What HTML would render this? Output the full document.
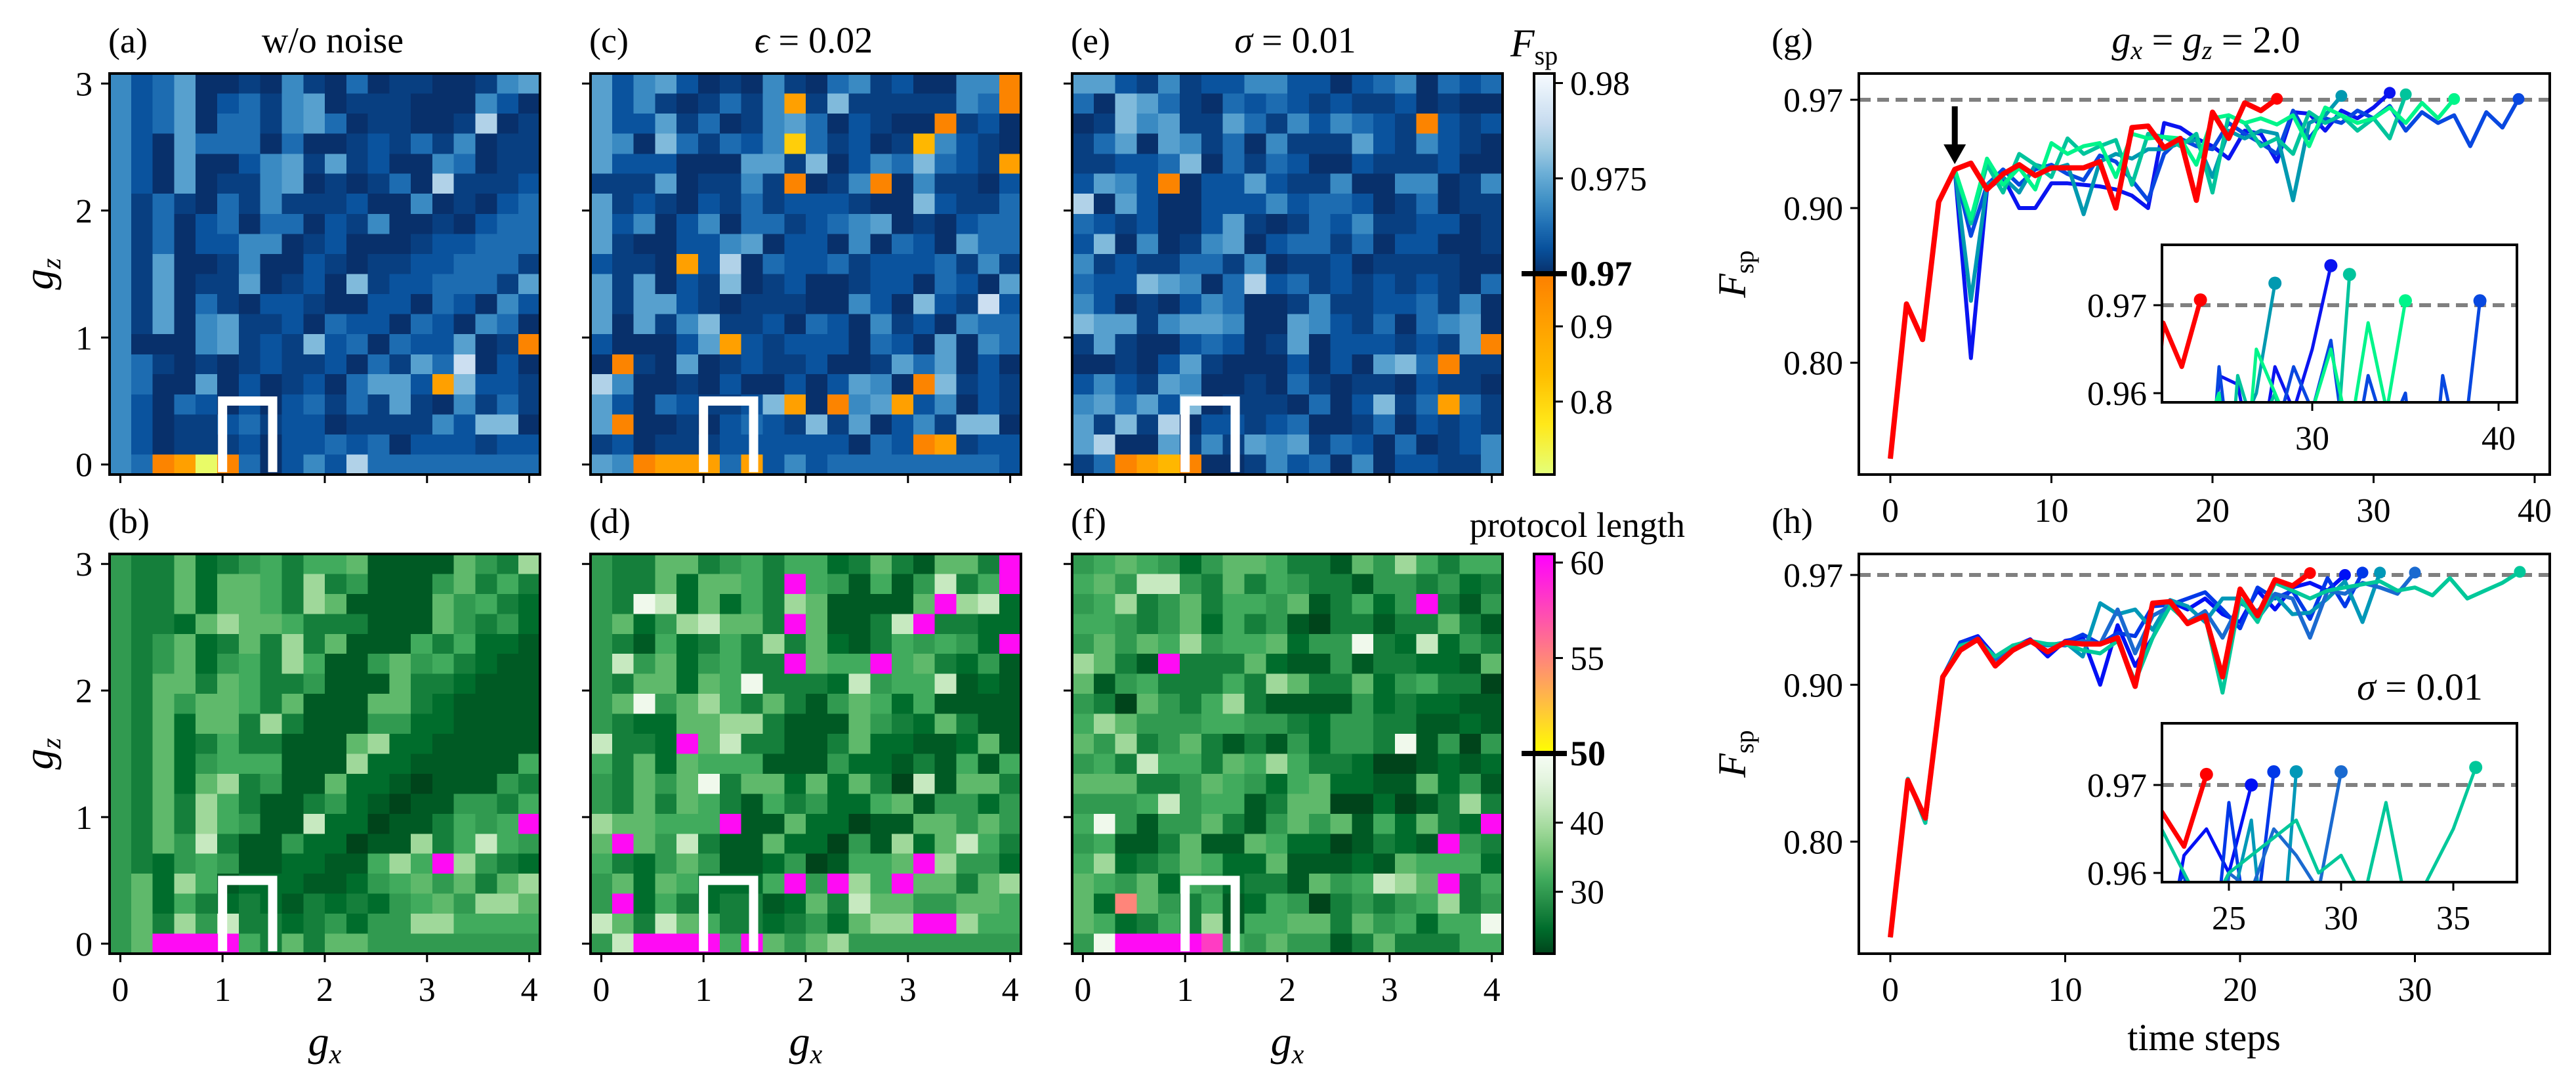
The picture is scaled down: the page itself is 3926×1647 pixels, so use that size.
<!DOCTYPE html>
<html><head><meta charset="utf-8"><title>Fidelity and protocol length heatmaps</title>
<style>
html,body{margin:0;padding:0;background:#fff;width:3926px;height:1647px;overflow:hidden;}
svg{display:block;}
text{font-family:"Liberation Serif","DejaVu Serif",serif;fill:#000;}
</style></head>
<body>
<svg id="fig" xmlns="http://www.w3.org/2000/svg" width="3926" height="1647" viewBox="0 0 3926 1647">
<defs>
<clipPath id="clipG"><rect x="2833" y="112" width="1053" height="611"/></clipPath>
<clipPath id="clipH"><rect x="2833" y="844" width="1053" height="609"/></clipPath>
<clipPath id="clipGi"><rect x="3295" y="373" width="541" height="240"/></clipPath>
<clipPath id="clipHi"><rect x="3295" y="1102" width="541" height="242"/></clipPath>
</defs>
</svg>
<script>
// ---------------- DATA ----------------
const gxVals=[0,0.211,0.421,0.632,0.842,1.053,1.263,1.474,1.684,1.895,2.105,2.316,2.526,2.737,2.947,3.158,3.368,3.579,3.789,4.0];
const gzVals=[0,0.158,0.316,0.474,0.632,0.789,0.947,1.105,1.263,1.421,1.579,1.737,1.895,2.053,2.211,2.368,2.526,2.684,2.842,3.0];
const fCodeValue={'0':0.9700,'1':0.9706,'2':0.9714,'3':0.9724,'4':0.9736,'5':0.9746,'6':0.9758,'7':0.9772,'8':0.9782,'a':0.960,'b':0.903,'c':0.850,'d':0.810,'e':0.716};
const lCodeValue={'0':21,'1':23,'2':24.7,'3':26.8,'4':30,'5':31.9,'6':34,'7':39,'8':42.8,'9':48.5,'m':60,'p':58,'s':55};
// rows listed from gz=3 (top) down to gz=0
const fidelityA=["42350010410301100145","42350231450111000420","42350331453011001701","42053330300121314011","42050024515120043011","42050114501013071112","41310314111200401023","41302303302140010233","41302244012000122333","41500140021011223331","41501150120612233315","41503102210022032042","41504511203220320430","4000451216230322501a","43101012112031538020","430050201203552b6221","42032020231315104131","42011231220111142660","42011120223230222122","43abea30242733333333"].map(r=>[...r].map(c=>fCodeValue[c]));
const fidelityC=["5245201041034120044a","524101314b161111143a","5225130145302100a120","540631324d31201c4210","5222000551602436321b","111501141a014a041102","51210213122210062113","52402403312345010233","51002245022040320533","2110b270322312223141","51502160120012203205","51552101110042062182","50514611203204120433","200025b2122203205043","0a105012112001535020","740010200202540a6121","520321126b0a45b24021","5a001023216150241660","120111222222032ab122","54abbb3b242333333332"].map(r=>[...r].map(c=>fCodeValue[c]));
const fidelityE=["55214122442202340323","30653103232121120100","0164511531424321a212","13505413041115214210","11223603132002111200","2542a022521140044014","70520022242332013011","32120025101324112201","26040145023313022001","41211331401120111100","32265403723121212103","42010243001411223140","65514554005421303450","1510023201502221215a","00102510002020563a11","24215400103101102110","45352601110302613b31","51617022123001302121","57005141545132030124","13abca00142304022114"].map(r=>[...r].map(c=>fCodeValue[c]));
const lengthB=["43362345355611116437","43362665373411146353","43362665376111164532","43326766533311164342","43462363736111535221","43462453751146453211","43663653341116332111","43646653611166321111","43626637311144221111","43623533111672211111","43624555111722111115","43626734116221011143","43637531134210114435","4363754118220113545m","43648311422011735854","432454112211575m7432","46275122211245646367","46253232132324564776","46374833234244775555","46mmmm53636644444444"].map(r=>[...r].map(c=>lCodeValue[c]));
const lengthD=["4336634535523631663m","433626653m541514835m","4398262537611116m782","462478663m61138m3322","4315235373621354542m","484624533m655m563241","43662659333284558121","46946753631465251111","43226677311164326311","8332m683311362211261","53626555111422131515","43646936626263081663","43636531534225614424","766555m1162201166464","6m648311622041726853","532464112401556m7442","462652225m4m75m66367","4m253233126386644665","863865332342677mm755","48mmmm5m646744444444"].map(r=>[...r].map(c=>lCodeValue[c]));
const lengthF=["45654246653316475355","56488436354331443423","4573463554613524m314","55434625341033133631","46465745562449328243","7631m333621141332216","61453335376336245330","43064357311114232211","57644455443244331121","64734631314244391404","45385536575332001212","66633465425622116241","44458455136600201373","5941446314646152632m","45113611652201321m43","57234652261112165552","65462542331645876m35","62s64351254034345734","65235371556636452559","49mmmmp5464413633355"].map(r=>[...r].map(c=>lCodeValue[c]));

// line chart (g): gx = gz = 2.0
const gRed=[0.738,0.838,0.815,0.904,0.925,0.929,0.912,0.922,0.928,0.921,0.926,0.926,0.926,0.930,0.900,0.952,0.953,0.939,0.945,0.905,0.962,0.945,0.968,0.963,0.9706];
const gBlue1=[0.738,0.838,0.815,0.904,0.925,0.803,0.912,0.920,0.900,0.900,0.916,0.916,0.915,0.914,0.912,0.908,0.900,0.955,0.952,0.945,0.940,0.932,0.950,0.948,0.930,0.962,0.961,0.950,0.963,0.958,0.965,0.9745];
const gBlue2=[0.738,0.838,0.815,0.904,0.925,0.882,0.915,0.925,0.915,0.925,0.928,0.922,0.918,0.934,0.930,0.918,0.905,0.935,0.945,0.940,0.938,0.955,0.948,0.942,0.935,0.963,0.945,0.958,0.955,0.963,0.958,0.966,0.950,0.962,0.955,0.960,0.940,0.962,0.952,0.9705];
const gTeal=[0.738,0.838,0.815,0.904,0.925,0.840,0.915,0.920,0.910,0.928,0.925,0.928,0.896,0.930,0.935,0.932,0.938,0.938,0.942,0.944,0.920,0.950,0.945,0.950,0.948,0.905,0.955,0.960,0.9725];
const gSea=[0.738,0.838,0.815,0.904,0.925,0.890,0.928,0.910,0.935,0.928,0.920,0.945,0.935,0.940,0.944,0.915,0.948,0.946,0.940,0.948,0.910,0.960,0.955,0.940,0.945,0.935,0.962,0.955,0.960,0.950,0.958,0.945,0.9735];
const gGreen=[0.738,0.838,0.815,0.904,0.925,0.893,0.932,0.915,0.926,0.912,0.942,0.935,0.940,0.942,0.920,0.948,0.945,0.946,0.945,0.928,0.958,0.960,0.955,0.958,0.954,0.960,0.940,0.965,0.960,0.955,0.958,0.965,0.955,0.968,0.958,0.9705];
// line chart (h): sigma = 0.01
const hRed=[0.739,0.839,0.815,0.905,0.922,0.929,0.912,0.922,0.928,0.921,0.927,0.926,0.926,0.930,0.899,0.952,0.953,0.939,0.944,0.905,0.961,0.944,0.967,0.963,0.9712];
const hBlue1=[0.739,0.840,0.812,0.905,0.927,0.931,0.918,0.924,0.929,0.918,0.928,0.930,0.900,0.938,0.912,0.930,0.953,0.948,0.955,0.945,0.940,0.960,0.948,0.962,0.965,0.960,0.970];
const hBlue2=[0.739,0.840,0.812,0.905,0.927,0.930,0.916,0.923,0.928,0.925,0.927,0.932,0.926,0.933,0.931,0.950,0.951,0.955,0.959,0.948,0.936,0.962,0.955,0.960,0.942,0.968,0.950,0.9715];
const hTeal=[0.739,0.840,0.812,0.905,0.925,0.928,0.918,0.922,0.927,0.925,0.927,0.918,0.952,0.945,0.948,0.935,0.954,0.950,0.940,0.955,0.955,0.942,0.957,0.945,0.946,0.955,0.966,0.940,0.9715];
const hMid=[0.739,0.840,0.812,0.905,0.925,0.928,0.916,0.925,0.927,0.926,0.925,0.928,0.926,0.948,0.920,0.944,0.950,0.940,0.947,0.930,0.952,0.947,0.958,0.955,0.930,0.960,0.958,0.965,0.962,0.958,0.9715];
const hSea=[0.739,0.840,0.812,0.905,0.925,0.928,0.918,0.925,0.928,0.926,0.926,0.922,0.920,0.928,0.902,0.930,0.950,0.940,0.944,0.895,0.955,0.940,0.965,0.960,0.955,0.960,0.962,0.964,0.966,0.960,0.962,0.957,0.968,0.955,0.960,0.965,0.972];
const heatXTicks=[0,1,2,3,4];
const heatYTicks=[0,1,2,3];
const fCbTicks=[0.98,0.975,0.9,0.8];
const lCbTicks=[60,55,40,30];
const gXTicks=[0,10,20,30,40];
const hXTicks=[0,10,20,30];
const lineYTicks=[0.97,0.90,0.80];
const gInsetXTicks=[30,40];
const hInsetXTicks=[25,30,35];
const insetYTicks=[0.97,0.96];

// ---------------- HELPERS ----------------
const NS='http://www.w3.org/2000/svg';
const svg=document.getElementById('fig');
function mk(tag,attrs,parent){const e=document.createElementNS(NS,tag);for(const k in attrs)e.setAttribute(k,attrs[k]);(parent||svg).appendChild(e);return e;}
function hex(c){return '#'+c.map(v=>Math.max(0,Math.min(255,Math.round(v))).toString(16).padStart(2,'0')).join('');}
function h2r(h){return [1,3,5].map(i=>parseInt(h.substr(i,2),16));}
function interp(stops,t){t=Math.max(0,Math.min(1,t));const n=stops.length-1;const p=t*n;const i=Math.min(n-1,Math.floor(p));const f=p-i;const a=h2r(stops[i]),b=h2r(stops[i+1]);return hex(a.map((v,k)=>v+(b[k]-v)*f));}
const BLUES_R=['#08306b','#08519c','#2171b5','#4292c6','#6baed6','#9ecae1','#c6dbef','#deebf7','#f7fbff'];
const WISTIA=['#e4ff7a','#ffe81a','#ffbd00','#ffa000','#fc7f00'];
const GREENS_R=['#00441b','#006d2c','#238b45','#41ab5d','#74c476','#a1d99b','#c7e9c0','#e5f5e0','#f7fcf5'];
const F_MIN=0.703,F_MID=0.97,F_MAX=0.9805,L_MIN=21.05,L_MID=50,L_MAX=60.45;
function fColor(v){return v>=F_MID?interp(BLUES_R,(v-F_MID)/(F_MAX-F_MID)):interp(WISTIA,(v-F_MIN)/(F_MID-F_MIN));}
function lColor(v){if(v<=L_MID)return interp(GREENS_R,(v-L_MIN)/(L_MID-L_MIN));const s=(L_MAX-v)/(L_MAX-L_MID);return hex([255,255*s,255*(1-s)]);}
function txt(x,y,s,size,anchor,parent){return mk('text',{x:x,y:y,'font-size':size,'text-anchor':anchor||'middle'},parent);}

// ---------------- HEATMAPS ----------------
const panelW=656;
function heatPanel(rows,left,top,h,colorFn,name,label,title,showY,showXLabels){
  const g=mk('g',{});
  
  
  const bottom=top+h;
  const xS=v=>left+(v+0.1053)/4.2105*panelW;
  const yS=v=>bottom-(v+0.0789)/3.1579*h;
  const cw=panelW/gxVals.length, ch=h/gzVals.length;
  rows.forEach((row,ri)=>{
    const gz=gzVals[gzVals.length-1-ri];
    row.forEach((v,ci)=>{
      const r=mk('rect',{x:(xS(gxVals[ci])-cw/2).toFixed(2),y:(yS(gz)-ch/2).toFixed(2),width:(cw+0.6).toFixed(2),height:(ch+0.6).toFixed(2),fill:colorFn(v),'shape-rendering':'crispEdges'},g);
      
      
    });
  });
  const box=mk('polyline',{points:`${xS(1.0)},${yS(-0.06)} ${xS(1.0)},${yS(0.5)} ${xS(1.49)},${yS(0.5)} ${xS(1.49)},${yS(-0.06)}`,fill:'none',stroke:'#fff','stroke-width':14},g);
  
  
  const fr=mk('rect',{x:left,y:top,width:panelW,height:h,fill:'none',stroke:'#000','stroke-width':4},g);
  
  
  heatXTicks.forEach(t=>{
    const tk=mk('line',{x1:xS(t),x2:xS(t),y1:bottom,y2:bottom+13,stroke:'#000','stroke-width':3},g);
    
    
    if(showXLabels){
      const tl=txt(xS(t),bottom+72,String(t),52,'middle',g);
      tl.textContent=String(t);
      
      
    }
  });
  heatYTicks.forEach(t=>{
    const tk=mk('line',{x1:left-13,x2:left,y1:yS(t),y2:yS(t),stroke:'#000','stroke-width':3},g);
    
    
    if(showY){
      const tl=txt(left-26,yS(t)+18,String(t),52,'end',g);
      tl.textContent=String(t);
      
      
    }
  });
  const pl=txt(left-2,top-32,'',54,'start',g);
  pl.textContent=label;
  
  
  if(title){
    const tt=txt(left+panelW/2+12,top-32,'',56,'middle',g);
    tt.innerHTML=title;
    
    
  }
  if(showY){
    const yl=mk('text',{x:0,y:0,'font-size':64,'text-anchor':'middle','font-style':'italic',transform:`translate(80,${(top+bottom)/2}) rotate(-90)`},g);
    yl.innerHTML='g<tspan font-size="42" dy="12">z</tspan>';
    
    
  }
  if(showXLabels){
    const xl=mk('text',{x:left+panelW/2,y:1608,'font-size':64,'text-anchor':'middle','font-style':'italic'},g);
    xl.innerHTML='g<tspan font-size="42" dy="12">x</tspan>';
    
    
  }
}
heatPanel(fidelityA,167,112,611,fColor,'heatmap-fidelity-no-noise','(a)','w/o noise',true,false);
heatPanel(fidelityC,900,112,611,fColor,'heatmap-fidelity-epsilon','(c)','<tspan font-style="italic">ϵ</tspan> = 0.02',false,false);
heatPanel(fidelityE,1634,112,611,fColor,'heatmap-fidelity-sigma','(e)','<tspan font-style="italic">σ</tspan> = 0.01',false,false);
heatPanel(lengthB,167,844,609,lColor,'heatmap-length-no-noise','(b)',null,true,true);
heatPanel(lengthD,900,844,609,lColor,'heatmap-length-epsilon','(d)',null,false,true);
heatPanel(lengthF,1634,844,609,lColor,'heatmap-length-sigma','(f)',null,false,true);

// ---------------- COLORBARS ----------------
const defs=svg.querySelector('defs');
function gradient(id,fn,n){const lg=mk('linearGradient',{id:id,x1:0,y1:1,x2:0,y2:0},defs);for(let i=0;i<=n;i++){mk('stop',{offset:i/n,'stop-color':fn(i/n)},lg);}}
gradient('gBlue',t=>interp(BLUES_R,t),16);
gradient('gWistia',t=>interp(WISTIA,t),8);
gradient('gGreen',t=>interp(GREENS_R,t),16);
gradient('gSpring',t=>hex([255,255*(1-t),255*t]),8);
function colorbar(top,bottom,midVal,minV,maxV,lowGrad,highGrad,ticks,name,title){
  const g=mk('g',{});
  
  
  const x=2338,w=31;
  const midY=(name==='colorbar-fidelity')?417:1148;
  const yOf=v=> v>=midVal ? midY-(v-midVal)/(maxV-midVal)*(midY-top) : midY+(midVal-v)/(midVal-minV)*(bottom-midY);
  const r1=mk('rect',{x:x,y:top,width:w,height:midY-top,fill:`url(#${highGrad})`},g);
  
  
  const r2=mk('rect',{x:x,y:midY,width:w,height:bottom-midY,fill:`url(#${lowGrad})`},g);
  
  
  const fr=mk('rect',{x:x,y:top,width:w,height:bottom-top,fill:'none',stroke:'#000','stroke-width':4},g);
  
  
  ticks.forEach(t=>{
    const tk=mk('line',{x1:x+w,x2:x+w+13,y1:yOf(t),y2:yOf(t),stroke:'#000','stroke-width':3},g);
    
    
    const tl=txt(x+w+24,yOf(t)+18,'',52,'start',g);
    tl.textContent=String(t);
    
    
  });
  const mkr=mk('line',{x1:2319,x2:2388,y1:midY,y2:midY,stroke:'#000','stroke-width':8},g);
  
  
  const ml=txt(2393,midY+18,'',54,'start',g);
  ml.textContent=String(midVal===50?'50':'0.97');
  ml.setAttribute('font-weight','bold');
  
  
  const tt=txt(title.x,title.y,'',title.size,title.anchor,g);
  tt.innerHTML=title.html;
  
  
}
colorbar(112,723,0.97,F_MIN,F_MAX,'gWistia','gBlue',fCbTicks,'colorbar-fidelity',{x:2302,y:86,size:60,anchor:'start',html:'<tspan font-style="italic">F</tspan><tspan font-size="40" dy="12">sp</tspan>'});
colorbar(844,1453,50,L_MIN,L_MAX,'gGreen','gSpring',lCbTicks,'colorbar-length',{x:2568,y:818,size:54,anchor:'end',html:'protocol length'});

// ---------------- LINE CHARTS ----------------
const SERIES_COLORS_G=['#0a14f0','#0848e0','#0099b0','#00c49c','#00f58a'];
const SERIES_COLORS_H=['#0010f5','#0038e8','#0098b8','#1a6ad0','#00c89a'];
function lineChart(cfg){
  const g=mk('g',{});
  
  
  const xS=t=>cfg.x0+t*cfg.xk;
  const yS=v=>cfg.y97+(0.97-v)*cfg.yk;
  const L=2833,R=3886;
  const ref=mk('line',{x1:L,x2:R,y1:yS(0.97),y2:yS(0.97),stroke:'#808080','stroke-width':6,'stroke-dasharray':'18 10'},g);
  
  
  const clipG=mk('g',{'clip-path':`url(#${cfg.clip})`},g);
  cfg.series.forEach((s,i)=>{
    const pl=mk('polyline',{points:s.data.map((v,t)=>`${xS(t).toFixed(1)},${yS(v).toFixed(1)}`).join(' '),fill:'none',stroke:s.color,'stroke-width':s.w,'stroke-linejoin':'round'},clipG);
    
    
    const last=s.data.length-1;
    const dot=mk('circle',{cx:xS(last),cy:yS(s.data[last]),r:9,fill:s.color},clipG);
    
    
  });
  const fr=mk('rect',{x:L,y:cfg.top,width:R-L,height:cfg.bottom-cfg.top,fill:'none',stroke:'#000','stroke-width':4},g);
  
  
  cfg.xTicks.forEach(t=>{
    const tk=mk('line',{x1:xS(t),x2:xS(t),y1:cfg.bottom,y2:cfg.bottom+13,stroke:'#000','stroke-width':3},g);
    
    
    const tl=txt(xS(t),cfg.bottom+72,'',52,'middle',g);
    tl.textContent=String(t);
    
    
  });
  lineYTicks.forEach(t=>{
    const tk=mk('line',{x1:L-13,x2:L,y1:yS(t),y2:yS(t),stroke:'#000','stroke-width':3},g);
    
    
    const tl=txt(L-24,yS(t)+18,'',52,'end',g);
    tl.textContent=t.toFixed(2);
    
    
  });
  const yl=mk('text',{x:0,y:0,'font-size':60,'text-anchor':'middle',transform:`translate(2660,${(cfg.top+cfg.bottom)/2}) rotate(-90)`},g);
  yl.innerHTML='<tspan font-style="italic">F</tspan><tspan font-size="40" dy="12">sp</tspan>';
  
  
  const pl=txt(2700,cfg.top-32,'',54,'start',g);
  pl.textContent=cfg.label;
  
  
  // inset
  const ig=mk('g',{},g);
  
  
  const ix=t=>cfg.ix30+(t-30)*cfg.ixk;
  const iy=v=>cfg.iy97+(0.97-v)*13400;
  const bg=mk('rect',{x:3295,y:cfg.itop,width:541,height:cfg.ibottom-cfg.itop,fill:'#fff'},ig);
  
  
  const iref=mk('line',{x1:3295,x2:3836,y1:iy(0.97),y2:iy(0.97),stroke:'#808080','stroke-width':6,'stroke-dasharray':'18 10'},ig);
  
  
  const ic=mk('g',{'clip-path':`url(#${cfg.iclip})`},ig);
  cfg.series.forEach(s=>{
    const p=mk('polyline',{points:s.data.map((v,t)=>`${ix(t).toFixed(1)},${iy(v).toFixed(1)}`).join(' '),fill:'none',stroke:s.color,'stroke-width':s.w-1,'stroke-linejoin':'round'},ic);
    
    
    const last=s.data.length-1;
    const d=mk('circle',{cx:ix(last),cy:iy(s.data[last]),r:10,fill:s.color},ic);
    
    
  });
  const ifr=mk('rect',{x:3295,y:cfg.itop,width:541,height:cfg.ibottom-cfg.itop,fill:'none',stroke:'#000','stroke-width':4},ig);
  
  
  cfg.ixTicks.forEach(t=>{
    const tk=mk('line',{x1:ix(t),x2:ix(t),y1:cfg.ibottom,y2:cfg.ibottom+13,stroke:'#000','stroke-width':3},ig);
    
    
    const tl=txt(ix(t),cfg.ibottom+72,'',52,'middle',ig);
    tl.textContent=String(t);
    
    
  });
  insetYTicks.forEach(t=>{
    const tk=mk('line',{x1:3282,x2:3295,y1:iy(t),y2:iy(t),stroke:'#000','stroke-width':3},ig);
    
    
    const tl=txt(3272,iy(t)+18,'',52,'end',ig);
    tl.textContent=t.toFixed(2);
    
    
  });
  return {g,xS,yS};
}
const gChart=lineChart({name:'line-chart-g',label:'(g)',top:112,bottom:723,x0:2881,xk:24.55,y97:152,yk:2357,clip:'clipG',
  series:[{data:gBlue1,color:SERIES_COLORS_G[0],w:6},{data:gBlue2,color:SERIES_COLORS_G[1],w:6},{data:gTeal,color:SERIES_COLORS_G[2],w:6},{data:gSea,color:SERIES_COLORS_G[3],w:6},{data:gGreen,color:SERIES_COLORS_G[4],w:6},{data:gRed,color:'#ff0000',w:8}],
  xTicks:gXTicks,itop:373,ibottom:613,ix30:3524,ixk:28.4,iy97:465,iclip:'clipGi',ixTicks:gInsetXTicks});
const hChart=lineChart({name:'line-chart-h',label:'(h)',top:844,bottom:1453,x0:2881,xk:26.65,y97:876,yk:2390,clip:'clipH',
  series:[{data:hBlue1,color:SERIES_COLORS_H[0],w:6},{data:hBlue2,color:SERIES_COLORS_H[1],w:6},{data:hTeal,color:SERIES_COLORS_H[2],w:6},{data:hMid,color:SERIES_COLORS_H[3],w:6},{data:hSea,color:SERIES_COLORS_H[4],w:6},{data:hRed,color:'#ff0000',w:8}],
  xTicks:hXTicks,itop:1102,ibottom:1344,ix30:3568,ixk:34.2,iy97:1196,iclip:'clipHi',ixTicks:hInsetXTicks});

// titles / annotations
const gt=txt(3362,80,'',58,'middle');
gt.innerHTML='<tspan font-style="italic">g</tspan><tspan font-size="40" dy="10" font-style="italic">x</tspan><tspan dy="-10"> = </tspan><tspan font-style="italic">g</tspan><tspan font-size="40" dy="10" font-style="italic">z</tspan><tspan dy="-10"> = 2.0</tspan>';


const st=txt(3688,1066,'',58,'middle');
st.innerHTML='<tspan font-style="italic">σ</tspan> = 0.01';


const xt=txt(3359,1600,'',58,'middle');
xt.textContent='time steps';


const arrowX=gChart.xS(4);
const shaft=mk('line',{x1:arrowX,x2:arrowX,y1:162,y2:225,stroke:'#000','stroke-width':9});


const head=mk('polygon',{points:`${arrowX-17},220 ${arrowX+17},220 ${arrowX},250`,fill:'#000'});


</script>
</body></html>
